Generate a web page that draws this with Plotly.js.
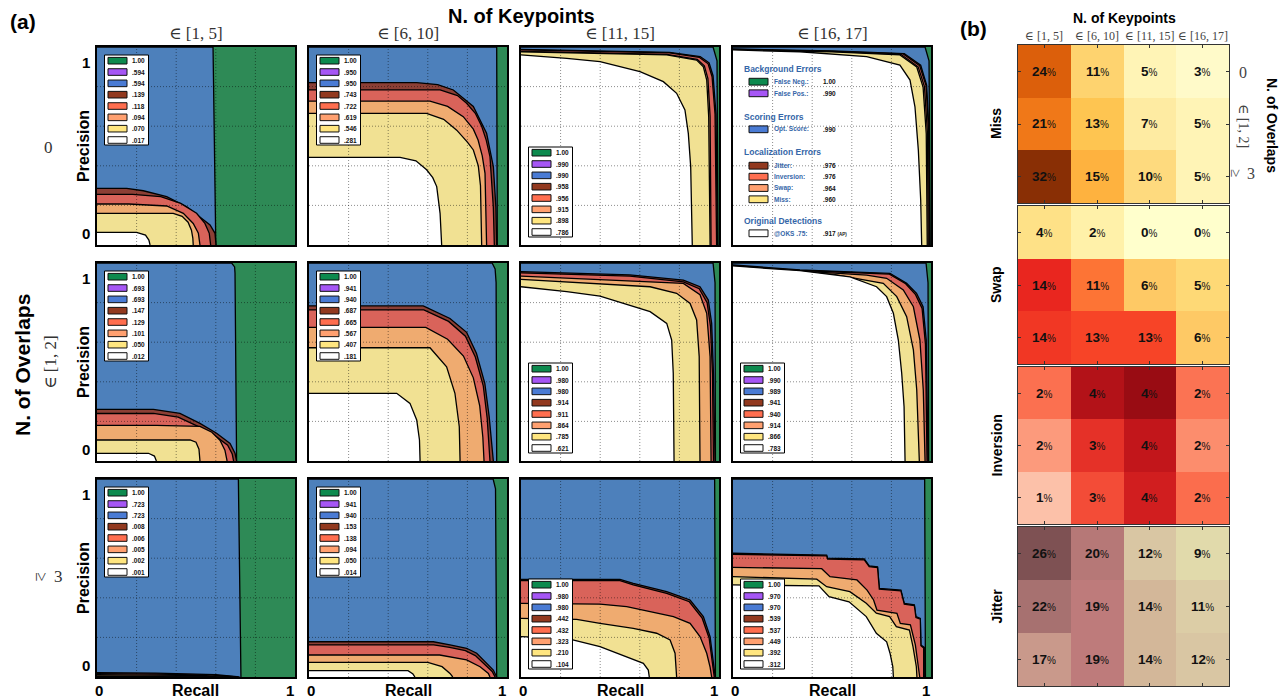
<!DOCTYPE html>
<html><head><meta charset="utf-8">
<script src="https://cdn.plot.ly/plotly-3.0.1.min.js"></script>
<style>html,body{margin:0;padding:0;background:#fff}</style>
</head><body><div id="chart" style="width:1283px;height:698px"></div>
<script>
// ---------------- DATA ----------------
const keypointBins = ['∈ [1, 5]', '∈ [6, 10]', '∈ [11, 15]', '∈ [16, 17]'];
const overlapBins = ['0', '∈ [1, 2]', '≥ 3'];
const errorNames = ['False Neg.:', 'False Pos.:', 'Opt. Score:', 'Jitter:', 'Inversion:', 'Swap:', 'Miss:', '@OKS .75:'];
const heatmapNames = ['Miss', 'Swap', 'Inversion', 'Jitter'];

// AP values shown in each panel's legend (row-major, 12 panels)
const apLabels = [
 ['1.00','.594','.594','.139','.118','.094','.070','.017'],
 ['1.00','.950','.950','.743','.722','.619','.546','.281'],
 ['1.00','.990','.990','.958','.956','.915','.898','.786'],
 ['1.00','.990','.990','.976','.976','.964','.960','.917'],
 ['1.00','.693','.693','.147','.129','.101','.050','.012'],
 ['1.00','.941','.940','.687','.665','.567','.407','.181'],
 ['1.00','.980','.980','.914','.911','.864','.785','.621'],
 ['1.00','.990','.989','.941','.940','.914','.866','.783'],
 ['1.00','.723','.723','.008','.006','.005','.002','.001'],
 ['1.00','.941','.940','.153','.138','.094','.050','.014'],
 ['1.00','.980','.980','.442','.432','.323','.210','.104'],
 ['1.00','.970','.970','.539','.537','.449','.392','.312']
];

// False negatives: full box
const fullR = [0, 1];
const fullP = [1, 1];

const blueR = [
 [0,0.586,0.600],
 [0,0.948,0.951],
 [0,0.97,0.99,0.995],
 [0,0.97,0.99,0.996],
 [0,0.68,0.695,0.697,0.705],
 [0,0.925,0.94,0.945,0.948],
 [0,0.97,0.98,0.982],
 [0,0.975,0.985,0.988],
 [0,0.714,0.727],
 [0,0.93,0.942,0.948],
 [0,0.978,0.982],
 [0,0.968,0.972]
];
const blueP = [
 [1,1,0],
 [1,1,0],
 [1,1,0.93,0],
 [1,1,0.93,0],
 [1,1,0.98,0.95,0],
 [1,1,0.97,0.9,0],
 [1,1,0.9,0],
 [1,1,0.9,0],
 [1,1,0],
 [1,1,0.95,0],
 [1,1,0],
 [1,1,0]
];
const brownR = [
 [0,0.15,0.234,0.352,0.453,0.52,0.571,0.596,0.601],
 [0,0.544,0.65,0.729,0.83,0.897,0.931,0.944,0.948],
 [0,0.75,0.905,0.95,0.97,0.985,0.992],
 [0,0.5,0.865,0.948,0.978,0.99,0.993],
 [0,0.285,0.419,0.52,0.604,0.672,0.697,0.705],
 [0,0.577,0.712,0.796,0.846,0.888,0.91,0.924,0.931],
 [0,0.3,0.55,0.82,0.904,0.946,0.963,0.972,0.98],
 [0,0.338,0.591,0.793,0.877,0.927,0.96,0.976,0.985],
 [0,0.3,0.6,0.72],
 [0,0.628,0.712,0.796,0.847,0.897,0.931,0.948],
 [0,0.5,0.567,0.736,0.854,0.921,0.955,0.971,0.981],
 [0,0.473,0.478,0.663,0.688,0.73,0.739,0.848,0.865,0.916,0.924,0.946,0.949,0.963,0.966,0.966]
];
const brownP = [
 [0.286,0.286,0.274,0.244,0.193,0.143,0.101,0.059,0],
 [0.82,0.82,0.81,0.783,0.7,0.564,0.396,0.19,0],
 [0.988,0.973,0.952,0.92,0.855,0.66,0],
 [0.99,0.98,0.967,0.908,0.808,0.57,0],
 [0.261,0.261,0.24,0.19,0.14,0.089,0.039,0],
 [0.783,0.783,0.72,0.65,0.543,0.392,0.224,0.072,0],
 [0.956,0.948,0.94,0.914,0.88,0.813,0.695,0.443,0],
 [0.99,0.965,0.955,0.948,0.897,0.847,0.779,0.611,0],
 [0.022,0.02,0.012,0],
 [0.178,0.178,0.162,0.145,0.12,0.07,0.035,0],
 [0.493,0.493,0.473,0.431,0.389,0.305,0.204,0.086,0],
 [0.625,0.616,0.6,0.596,0.561,0.556,0.448,0.439,0.372,0.364,0.305,0.296,0.162,0.153,0.15,0]
];
const redR = [
 [0,0.18,0.322,0.423,0.503,0.545,0.567,0.574],
 [0,0.662,0.75,0.796,0.84,0.872,0.895,0.914,0.931,0.936],
 [0,0.75,0.9,0.945,0.965,0.98,0.988],
 [0,0.5,0.86,0.943,0.975,0.988,0.991],
 [0,0.285,0.41,0.51,0.595,0.66,0.683,0.69],
 [0,0.58,0.705,0.79,0.84,0.88,0.9,0.91,0.914],
 [0,0.3,0.55,0.82,0.9,0.94,0.957,0.967,0.972],
 [0,0.338,0.591,0.79,0.872,0.922,0.955,0.972,0.98],
 [0,0.3,0.58,0.71],
 [0,0.63,0.71,0.79,0.84,0.89,0.925,0.94],
 [0,0.5,0.567,0.736,0.85,0.915,0.95,0.966,0.976],
 [0,0.473,0.478,0.663,0.688,0.73,0.739,0.848,0.865,0.916,0.924,0.946,0.949,0.96,0.963,0.963]
];
const redP = [
 [0.256,0.256,0.244,0.21,0.16,0.109,0.059,0],
 [0.783,0.783,0.755,0.716,0.665,0.6,0.53,0.446,0.19,0],
 [0.985,0.97,0.948,0.915,0.85,0.66,0],
 [0.988,0.978,0.965,0.905,0.805,0.57,0],
 [0.24,0.24,0.222,0.175,0.128,0.08,0.035,0],
 [0.763,0.763,0.705,0.63,0.525,0.38,0.215,0.07,0],
 [0.95,0.942,0.934,0.905,0.87,0.8,0.68,0.44,0],
 [0.985,0.962,0.952,0.944,0.895,0.84,0.77,0.59,0],
 [0.017,0.015,0.009,0],
 [0.162,0.162,0.15,0.133,0.108,0.062,0.028,0],
 [0.487,0.487,0.465,0.422,0.38,0.297,0.197,0.08,0],
 [0.62,0.612,0.596,0.592,0.557,0.552,0.444,0.435,0.368,0.36,0.3,0.292,0.158,0.15,0.147,0]
];
const orangeR = [
 [0,0.16,0.352,0.436,0.486,0.512,0.52],
 [0,0.611,0.7,0.779,0.83,0.854,0.875,0.889,0.897],
 [0,0.736,0.89,0.926,0.944,0.955,0.96],
 [0,0.5,0.85,0.935,0.967,0.982,0.986],
 [0,0.3,0.52,0.58,0.621,0.646,0.657],
 [0,0.59,0.7,0.78,0.83,0.862,0.878,0.884],
 [0,0.3,0.55,0.82,0.904,0.938,0.955,0.96],
 [0,0.338,0.675,0.776,0.86,0.911,0.944,0.961,0.97],
 [0,0.3,0.55,0.7],
 [0,0.66,0.796,0.864,0.906,0.914],
 [0,0.399,0.534,0.652,0.77,0.854,0.904,0.938,0.955,0.963],
 [0,0.448,0.49,0.626,0.677,0.71,0.727,0.828,0.845,0.896,0.921,0.933,0.943]
];
const orangeP = [
 [0.207,0.207,0.197,0.16,0.109,0.059,0],
 [0.727,0.727,0.7,0.648,0.585,0.53,0.45,0.362,0],
 [0.978,0.963,0.938,0.905,0.84,0.65,0],
 [0.986,0.976,0.962,0.9,0.8,0.565,0],
 [0.18,0.18,0.175,0.145,0.105,0.055,0],
 [0.675,0.675,0.615,0.53,0.42,0.28,0.12,0],
 [0.934,0.92,0.91,0.897,0.84,0.746,0.527,0],
 [0.98,0.958,0.939,0.923,0.864,0.779,0.611,0.359,0],
 [0.012,0.011,0.007,0],
 [0.111,0.111,0.086,0.052,0.018,0],
 [0.372,0.368,0.355,0.33,0.305,0.271,0.204,0.12,0.05,0],
 [0.554,0.547,0.507,0.49,0.439,0.389,0.338,0.322,0.271,0.263,0.162,0.086,0]
];
const yellowR = [
 [0,0.385,0.43,0.46,0.477,0.484,0.486],
 [0,0.594,0.68,0.746,0.8,0.83,0.855,0.866,0.872],
 [0,0.736,0.887,0.921,0.938,0.948,0.955],
 [0,0.5,0.843,0.928,0.96,0.976,0.981],
 [0,0.47,0.5,0.515,0.52],
 [0,0.611,0.695,0.737,0.759,0.763],
 [0,0.399,0.652,0.786,0.854,0.887,0.9,0.904],
 [0,0.507,0.759,0.827,0.877,0.911,0.928,0.941],
 [0,0.3,0.5,0.65],
 [0,0.6,0.672,0.712,0.726],
 [0,0.281,0.399,0.567,0.685,0.753,0.778,0.786],
 [0,0.423,0.473,0.59,0.673,0.724,0.791,0.825,0.891,0.909,0.926,0.929]
];
const yellowP = [
 [0.16,0.16,0.145,0.115,0.075,0.035,0],
 [0.665,0.665,0.635,0.58,0.52,0.48,0.4,0.3,0],
 [0.976,0.96,0.934,0.9,0.833,0.648,0],
 [0.985,0.975,0.96,0.899,0.798,0.562,0],
 [0.106,0.106,0.095,0.06,0],
 [0.572,0.572,0.476,0.342,0.173,0],
 [0.917,0.896,0.88,0.847,0.796,0.712,0.527,0],
 [0.981,0.943,0.897,0.83,0.729,0.561,0.359,0],
 [0.006,0.005,0.003,0],
 [0.074,0.074,0.052,0.018,0],
 [0.296,0.291,0.271,0.246,0.221,0.187,0.12,0],
 [0.507,0.494,0.456,0.431,0.372,0.322,0.305,0.254,0.237,0.153,0.052,0]
];
const whiteR = [
 [0,0.2,0.245,0.262,0.268],
 [0,0.46,0.54,0.594,0.625,0.645,0.662,0.67],
 [0,0.231,0.399,0.601,0.719,0.786,0.828,0.845,0.857,0.865],
 [0,0.338,0.675,0.843,0.894,0.919,0.936,0.948,0.953],
 [0,0.26,0.29,0.3],
 [0,0.443,0.51,0.544,0.558,0.561],
 [0,0.231,0.399,0.567,0.652,0.736,0.761,0.769,0.773],
 [0,0.338,0.591,0.725,0.776,0.81,0.835,0.852,0.864,0.869],
 [0,0.3,0.6],
 [0,0.5,0.525,0.535],
 [0,0.231,0.399,0.534,0.618,0.643,0.648],
 [0,0.434,0.485,0.586,0.673,0.724,0.776,0.793,0.807,0.81]
];
const whiteP = [
 [0.064,0.064,0.05,0.025,0],
 [0.443,0.443,0.425,0.38,0.34,0.295,0.16,0],
 [0.96,0.943,0.926,0.876,0.825,0.766,0.682,0.564,0.396,0],
 [0.985,0.976,0.951,0.909,0.833,0.698,0.48,0.227,0],
 [0.039,0.039,0.025,0],
 [0.342,0.342,0.291,0.207,0.106,0],
 [0.88,0.855,0.833,0.779,0.754,0.695,0.611,0.443,0],
 [0.985,0.961,0.93,0.88,0.83,0.746,0.611,0.443,0.274,0],
 [0.003,0.002,0],
 [0.032,0.032,0.015,0],
 [0.204,0.195,0.153,0.103,0.069,0.035,0],
 [0.465,0.46,0.406,0.38,0.305,0.221,0.178,0.12,0.052,0]
];

// (b) heatmaps: rows = overlaps (0, [1,2], >=3), cols = keypoint bins
const missPct = [[24,11,5,3],[21,13,7,5],[32,15,10,5]];
const swapPct = [[4,2,0,0],[14.4,11,6,5],[13.6,13,13,6]];
const inversionPct = [[2.4,4.07,4.4,2.35],[1.77,3.25,3.83,1.96],[1.2,2.87,3.59,2.44]];
const jitterPct = [[26,20,12,9],[22,19,14,11],[17,19,14,12]];

// ---------------- STYLE / LAYOUT ----------------
const W = 1283, H = 698;
const SANS = 'Liberation Sans, Arial, Helvetica, sans-serif';
const SERIF = 'Liberation Serif, DejaVu Serif, serif';
const X = p => p / W, Y = p => 1 - p / H;
const colLeft = [97, 309, 521, 733], rowTop = [47, 263, 479], PS = 198;
const legendPos = ['top','top','bottom',null,'top','top','bottom','bottom','top','top','bottom','bottom'];

const areaCol = {green:'#2e8a56', blue:'#4d80bb', brown:'#8c3f35', red:'#d9635a', orange:'#efab70', yellow:'#f1e193', white:'#ffffff'};
const swatchCol = ['#0d8a4e','#a656f5','#4a7bd4','#92391f','#ff6e4f','#ffa070','#ffe680','#ffffff'];
const gridLine = {color:'rgba(0,0,0,0.45)', width:1, dash:'1px,2px'};

const traces = [];
const layout = {
  width: W, height: H, margin: {l:0, r:0, t:0, b:0},
  paper_bgcolor: '#fff', plot_bgcolor: '#fff', showlegend: false,
  shapes: [], annotations: []
};
const ann = (x, y, text, opts) => layout.annotations.push(Object.assign({
  xref:'paper', yref:'paper', x:X(x), y:Y(y), text:text, showarrow:false,
  xanchor:'center', yanchor:'middle', font:{family:SANS, size:14, color:'#000'}
}, opts || {}));

for (let k = 0; k < 12; k++) {
  const n = k + 1, c = k % 4, r = Math.floor(k / 4);
  const xa = 'x' + (n === 1 ? '' : n), ya = 'y' + (n === 1 ? '' : n);
  const axBase = {range:[0,1], showgrid:false, zeroline:false, showticklabels:false, ticks:'',
    showline:true, mirror:true, linecolor:'#000', linewidth:1.6, layer:'above traces', fixedrange:true};
  layout['xaxis' + (n === 1 ? '' : n)] = Object.assign({}, axBase, {domain:[X(colLeft[c]), X(colLeft[c] + PS)], anchor: ya});
  layout['yaxis' + (n === 1 ? '' : n)] = Object.assign({}, axBase, {domain:[Y(rowTop[r] + PS), Y(rowTop[r])], anchor: xa});
  const add = (R, P, col, lw) => traces.push({type:'scatter', mode:'lines', x:R, y:P, xaxis:xa, yaxis:ya,
    fill:'tozeroy', fillcolor:col, line:{color:'#000', width:lw}, hoverinfo:'skip', showlegend:false});
  add(fullR, fullP, areaCol.green, 0);
  add(blueR[k], blueP[k], areaCol.blue, 1.3);
  add(brownR[k], brownP[k], areaCol.brown, 1.3);
  add(redR[k], redP[k], areaCol.red, 1.3);
  add(orangeR[k], orangeP[k], areaCol.orange, 1.3);
  add(yellowR[k], yellowP[k], areaCol.yellow, 1.3);
  add(whiteR[k], whiteP[k], areaCol.white, 1.3);
  // dotted grid above fills
  [0.2, 0.4, 0.6, 0.8].forEach(g => {
    layout.shapes.push({type:'line', xref:xa, yref:ya, x0:g, x1:g, y0:0, y1:1, layer:'above', line:gridLine});
    layout.shapes.push({type:'line', xref:xa, yref:ya, x0:0, x1:1, y0:g, y1:g, layer:'above', line:gridLine});
  });
}

// small per-panel legends
for (let k = 0; k < 12; k++) {
  if (!legendPos[k]) continue;
  const c = k % 4, r = Math.floor(k / 4);
  const bx = colLeft[c] + 7.5, by = rowTop[r] + (legendPos[k] === 'top' ? 8 : 100);
  layout.shapes.push({type:'rect', xref:'paper', yref:'paper', x0:X(bx), x1:X(bx + 44), y0:Y(by), y1:Y(by + 90),
    fillcolor:'#fff', line:{color:'#000', width:1}, layer:'above'});
  for (let i = 0; i < 8; i++) {
    const yc = by + 5.7 + i * 11.33;
    layout.shapes.push({type:'rect', xref:'paper', yref:'paper', x0:X(bx + 3.5), x1:X(bx + 22.5), y0:Y(yc - 3.3), y1:Y(yc + 3.3),
      fillcolor:swatchCol[i], line:{color:'#111', width:1}, layer:'above'});
    ann(bx + 25.5, yc, '<b>' + apLabels[k][i] + '</b>', {xanchor:'left', font:{family:SANS, size:6.5, color:'#111'}});
  }
}

// descriptive legend inside panel (row 0, col 3)
(function(){
  const L = colLeft[3], T = rowTop[0];
  const headCol = '#3566a8';
  [['Background Errors',22],['Scoring Errors',70],['Localization Errors',104.7],['Original Detections',174]].forEach(h =>
    ann(L + 8.5, T + h[1], '<b>' + h[0] + '</b>', {xanchor:'left', font:{family:SANS, size:8.5, color:headCol}}));
  const rowsY = [34.7, 46.3, 82.3, 118.7, 129.7, 141, 152.3, 186.3];
  for (let i = 0; i < 8; i++) {
    const yc = T + rowsY[i];
    layout.shapes.push({type:'rect', xref:'paper', yref:'paper', x0:X(L + 16), x1:X(L + 35), y0:Y(yc - 3.4), y1:Y(yc + 3.4),
      fillcolor:swatchCol[i], line:{color:'#111', width:1}, layer:'above'});
    ann(L + 38.7, yc, '<b>' + errorNames[i] + '</b>', {xanchor:'left', font:{family:SANS, size:6.5, color:headCol}});
    const v = '<b>' + apLabels[3][i] + '</b>' + (i === 7 ? ' <span style="font-size:4.5px"><b>(AP)</b></span>' : '');
    ann(L + 87.7, yc, v, {xanchor:'left', font:{family:SANS, size:6.5, color:'#111'}});
  }
})();

// (a) labels
ann(23, 21, '<b>(a)</b>', {font:{family:SANS, size:21, color:'#000'}});
ann(521, 16, '<b>N. of Keypoints</b>', {font:{family:SANS, size:20, color:'#000'}});
ann(23, 365, '<b>N. of Overlaps</b>', {textangle:-90, font:{family:SANS, size:21, color:'#000'}});
for (let c = 0; c < 4; c++) {
  ann(colLeft[c] + 99, 33, keypointBins[c], {font:{family:SERIF, size:17, color:'#333'}});
  ann(colLeft[c] + 99, 690, '<b>Recall</b>', {font:{family:SANS, size:16, color:'#000'}});
  ann(colLeft[c] + 2, 690, '<b>0</b>', {font:{family:SANS, size:15, color:'#000'}});
  ann(colLeft[c] + 193, 690, '<b>1</b>', {font:{family:SANS, size:15, color:'#000'}});
}
for (let r = 0; r < 3; r++) {
  ann(83, rowTop[r] + 99, '<b>Precision</b>', {textangle:-90, font:{family:SANS, size:16, color:'#000'}});
  ann(86, rowTop[r] + 15, '<b>1</b>', {font:{family:SANS, size:15, color:'#000'}});
  ann(86, rowTop[r] + 186, '<b>0</b>', {font:{family:SANS, size:15, color:'#000'}});
}
ann(48, 147, overlapBins[0], {font:{family:SERIF, size:17, color:'#333'}});
ann(50, 362, overlapBins[1], {textangle:-90, font:{family:SERIF, size:17, color:'#333'}});
ann(42, 576, overlapBins[2].charAt(0), {textangle:90, font:{family:SERIF, size:17, color:'#333'}});
ann(58, 576, overlapBins[2].slice(2), {font:{family:SERIF, size:17, color:'#333'}});

// (b) heatmaps
const hmX = [1018, 1229];
const hmTop = [45, 206, 367, 527], hmBot = [203, 364, 524, 686];
const hmData = [missPct, swapPct, inversionPct, jitterPct];
const csYlOrBr = [[0,'#ffffe5'],[0.125,'#fff7bc'],[0.25,'#fee391'],[0.375,'#fec44f'],[0.5,'#fe9929'],[0.625,'#ec7014'],[0.75,'#cc4c02'],[0.875,'#993404'],[1,'#662506']];
const csYlOrRd = [[0,'#ffffcc'],[0.125,'#ffeda0'],[0.25,'#fed976'],[0.375,'#feb24c'],[0.5,'#fd8d3c'],[0.625,'#fc4e2a'],[0.75,'#e31a1c'],[0.875,'#bd0026'],[1,'#800026']];
const csReds = [[0,'#fff5f0'],[0.125,'#fee0d2'],[0.25,'#fcbba1'],[0.375,'#fc9272'],[0.5,'#fb6a4a'],[0.625,'#ef3b2c'],[0.75,'#cb181d'],[0.875,'#a50f15'],[1,'#67000d']];
const csJitter = [[0,'#e3e0ae'],[0.2,'#dac8a4'],[0.32,'#d3b699'],[0.47,'#c99a8c'],[0.58,'#be7b7b'],[0.75,'#a5706f'],[1,'#74494b']];
const hmStyle = [[csYlOrBr,0,35],[csYlOrRd,0,20],[csReds,0.1,4.88],[csJitter,8,27]];
for (let h = 0; h < 4; h++) {
  const n = 13 + h, xa = 'x' + n, ya = 'y' + n;
  traces.push({type:'heatmap', z:hmData[h], x:[0,1,2,3], y:[0,1,2], xaxis:xa, yaxis:ya,
    colorscale:hmStyle[h][0], zmin:hmStyle[h][1], zmax:hmStyle[h][2], showscale:false, hoverinfo:'skip'});
  const axB = {showgrid:false, zeroline:false, showticklabels:false, ticks:'inside', ticklen:3, tickwidth:1, tickcolor:'#333',
    showline:true, mirror:'ticks', linecolor:'#333', linewidth:1.3, layer:'above traces', fixedrange:true};
  layout['xaxis' + n] = Object.assign({}, axB, {domain:[X(hmX[0]), X(hmX[1])], range:[-0.5,3.5], tickvals:[0,1,2,3], anchor:ya});
  layout['yaxis' + n] = Object.assign({}, axB, {domain:[Y(hmBot[h]), Y(hmTop[h])], range:[2.5,-0.5], tickvals:[0,1,2], anchor:xa});
  for (let r = 0; r < 3; r++) for (let c = 0; c < 4; c++) {
    layout.annotations.push({xref:xa, yref:ya, x:c, y:r, showarrow:false,
      text:'<b>' + Math.round(hmData[h][r][c]) + '</b><span style="font-size:10px">%</span>',
      font:{family:SANS, size:13.5, color:'#111'}});
  }
  ann(996, (hmTop[h] + hmBot[h]) / 2, '<b>' + heatmapNames[h] + '</b>', {textangle:-90, font:{family:SANS, size:14, color:'#000'}});
}
ann(973, 28, '<b>(b)</b>', {font:{family:SANS, size:21, color:'#000'}});
ann(1124, 18, '<b>N. of Keypoints</b>', {font:{family:SANS, size:14, color:'#000'}});
for (let c = 0; c < 4; c++) ann(1044.4 + c * 52.75, 36, keypointBins[c], {font:{family:SERIF, size:12, color:'#444'}});
ann(1243, 72, overlapBins[0], {font:{family:SERIF, size:16, color:'#444'}});
ann(1243, 126, overlapBins[1], {textangle:90, font:{family:SERIF, size:14, color:'#444'}});
ann(1236, 173, overlapBins[2].charAt(0), {textangle:90, font:{family:SERIF, size:15, color:'#444'}});
ann(1251, 173, overlapBins[2].slice(2), {font:{family:SERIF, size:16, color:'#444'}});
ann(1272, 125, '<b>N. of Overlaps</b>', {textangle:90, font:{family:SANS, size:14, color:'#000'}});

Plotly.newPlot('chart', traces, layout, {staticPlot:true, displayModeBar:false});
</script></body></html>
